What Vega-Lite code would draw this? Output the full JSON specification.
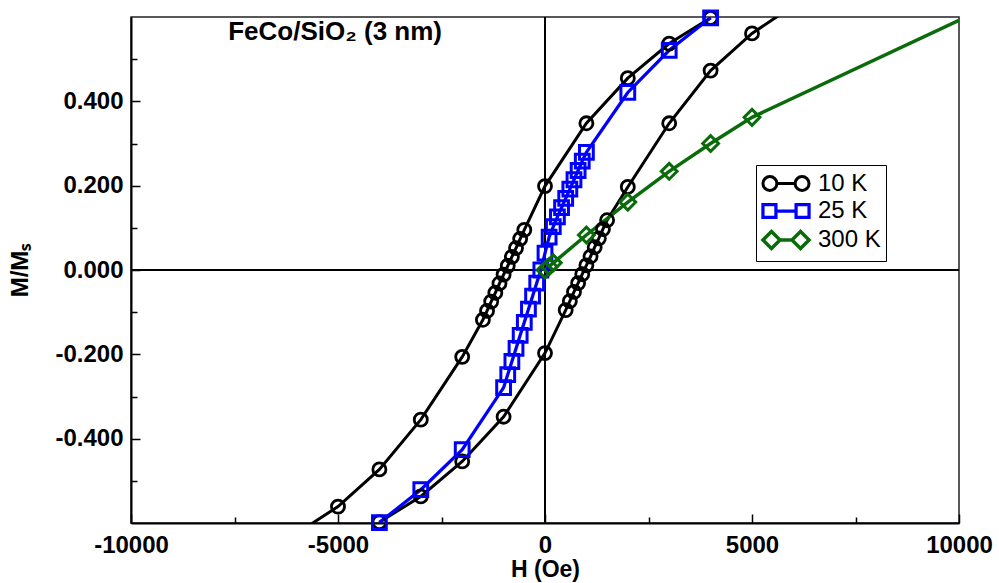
{
  "$schema": "https://vega.github.io/schema/vega-lite/v6.json",
  "width": 828,
  "height": 506,
  "autosize": {"type": "none"},
  "padding": {"left": 131, "top": 17, "right": 40, "bottom": 60},
  "background": "white",
  "config": {
    "view": {"stroke": "#222222", "strokeWidth": 1.5},
    "axis": {
      "labelFont": "Liberation Sans",
      "labelFontWeight": "bold",
      "labelFontSize": 24,
      "labelColor": "black",
      "titleFont": "Liberation Sans",
      "titleFontWeight": "bold",
      "titleFontSize": 24,
      "titleColor": "black",
      "domainColor": "black",
      "domainWidth": 2,
      "tickColor": "black",
      "tickWidth": 1.5,
      "grid": false
    }
  },
  "data": {
    "values": [
      {"series": "10 K", "branch": "a", "idx": 1, "H": 4000, "M": 0.598},
      {"series": "10 K", "branch": "a", "idx": 2, "H": 3000, "M": 0.537},
      {"series": "10 K", "branch": "a", "idx": 3, "H": 2000, "M": 0.455},
      {"series": "10 K", "branch": "a", "idx": 4, "H": 1000, "M": 0.348},
      {"series": "10 K", "branch": "a", "idx": 5, "H": 0, "M": 0.199},
      {"series": "10 K", "branch": "a", "idx": 6, "H": -500, "M": 0.095},
      {"series": "10 K", "branch": "a", "idx": 7, "H": -600, "M": 0.074},
      {"series": "10 K", "branch": "a", "idx": 8, "H": -700, "M": 0.052},
      {"series": "10 K", "branch": "a", "idx": 9, "H": -800, "M": 0.031},
      {"series": "10 K", "branch": "a", "idx": 10, "H": -900, "M": 0.010},
      {"series": "10 K", "branch": "a", "idx": 11, "H": -1000, "M": -0.011},
      {"series": "10 K", "branch": "a", "idx": 12, "H": -1100, "M": -0.032},
      {"series": "10 K", "branch": "a", "idx": 13, "H": -1200, "M": -0.054},
      {"series": "10 K", "branch": "a", "idx": 14, "H": -1300, "M": -0.075},
      {"series": "10 K", "branch": "a", "idx": 15, "H": -1400, "M": -0.097},
      {"series": "10 K", "branch": "a", "idx": 16, "H": -1500, "M": -0.118},
      {"series": "10 K", "branch": "a", "idx": 17, "H": -2000, "M": -0.206},
      {"series": "10 K", "branch": "a", "idx": 18, "H": -3000, "M": -0.355},
      {"series": "10 K", "branch": "a", "idx": 19, "H": -4000, "M": -0.473},
      {"series": "10 K", "branch": "a", "idx": 20, "H": -5000, "M": -0.561},
      {"series": "10 K", "branch": "a", "idx": 21, "H": -6000, "M": -0.625},
      {"series": "10 K", "branch": "b", "idx": 1, "H": -4000, "M": -0.598},
      {"series": "10 K", "branch": "b", "idx": 2, "H": -3000, "M": -0.537},
      {"series": "10 K", "branch": "b", "idx": 3, "H": -2000, "M": -0.454},
      {"series": "10 K", "branch": "b", "idx": 4, "H": -1000, "M": -0.348},
      {"series": "10 K", "branch": "b", "idx": 5, "H": 0, "M": -0.197},
      {"series": "10 K", "branch": "b", "idx": 6, "H": 500, "M": -0.095},
      {"series": "10 K", "branch": "b", "idx": 7, "H": 600, "M": -0.074},
      {"series": "10 K", "branch": "b", "idx": 8, "H": 700, "M": -0.052},
      {"series": "10 K", "branch": "b", "idx": 9, "H": 800, "M": -0.031},
      {"series": "10 K", "branch": "b", "idx": 10, "H": 900, "M": -0.010},
      {"series": "10 K", "branch": "b", "idx": 11, "H": 1000, "M": 0.011},
      {"series": "10 K", "branch": "b", "idx": 12, "H": 1100, "M": 0.032},
      {"series": "10 K", "branch": "b", "idx": 13, "H": 1200, "M": 0.054},
      {"series": "10 K", "branch": "b", "idx": 14, "H": 1300, "M": 0.075},
      {"series": "10 K", "branch": "b", "idx": 15, "H": 1400, "M": 0.097},
      {"series": "10 K", "branch": "b", "idx": 16, "H": 1500, "M": 0.118},
      {"series": "10 K", "branch": "b", "idx": 17, "H": 2000, "M": 0.197},
      {"series": "10 K", "branch": "b", "idx": 18, "H": 3000, "M": 0.348},
      {"series": "10 K", "branch": "b", "idx": 19, "H": 4000, "M": 0.473},
      {"series": "10 K", "branch": "b", "idx": 20, "H": 5000, "M": 0.561},
      {"series": "10 K", "branch": "b", "idx": 21, "H": 6000, "M": 0.627},
      {"series": "25 K", "branch": "a", "idx": 1, "H": -4000, "M": -0.599},
      {"series": "25 K", "branch": "a", "idx": 2, "H": -3000, "M": -0.521},
      {"series": "25 K", "branch": "a", "idx": 3, "H": -2000, "M": -0.426},
      {"series": "25 K", "branch": "a", "idx": 4, "H": -1000, "M": -0.279},
      {"series": "25 K", "branch": "a", "idx": 5, "H": -900, "M": -0.248},
      {"series": "25 K", "branch": "a", "idx": 6, "H": -800, "M": -0.217},
      {"series": "25 K", "branch": "a", "idx": 7, "H": -700, "M": -0.186},
      {"series": "25 K", "branch": "a", "idx": 8, "H": -600, "M": -0.155},
      {"series": "25 K", "branch": "a", "idx": 9, "H": -500, "M": -0.124},
      {"series": "25 K", "branch": "a", "idx": 10, "H": -400, "M": -0.093},
      {"series": "25 K", "branch": "a", "idx": 11, "H": -300, "M": -0.062},
      {"series": "25 K", "branch": "a", "idx": 12, "H": -200, "M": -0.031},
      {"series": "25 K", "branch": "a", "idx": 13, "H": -100, "M": 0.000},
      {"series": "25 K", "branch": "a", "idx": 14, "H": 0, "M": 0.040},
      {"series": "25 K", "branch": "a", "idx": 15, "H": 100, "M": 0.078},
      {"series": "25 K", "branch": "a", "idx": 16, "H": 200, "M": 0.103},
      {"series": "25 K", "branch": "a", "idx": 17, "H": 300, "M": 0.126},
      {"series": "25 K", "branch": "a", "idx": 18, "H": 400, "M": 0.148},
      {"series": "25 K", "branch": "a", "idx": 19, "H": 500, "M": 0.170},
      {"series": "25 K", "branch": "a", "idx": 20, "H": 600, "M": 0.192},
      {"series": "25 K", "branch": "a", "idx": 21, "H": 700, "M": 0.214},
      {"series": "25 K", "branch": "a", "idx": 22, "H": 800, "M": 0.236},
      {"series": "25 K", "branch": "a", "idx": 23, "H": 900, "M": 0.258},
      {"series": "25 K", "branch": "a", "idx": 24, "H": 1000, "M": 0.279},
      {"series": "25 K", "branch": "a", "idx": 25, "H": 2000, "M": 0.421},
      {"series": "25 K", "branch": "a", "idx": 26, "H": 3000, "M": 0.521},
      {"series": "25 K", "branch": "a", "idx": 27, "H": 4000, "M": 0.598},
      {"series": "300 K", "branch": "a", "idx": 1, "H": 0, "M": 0.000},
      {"series": "300 K", "branch": "a", "idx": 2, "H": 100, "M": 0.008},
      {"series": "300 K", "branch": "a", "idx": 3, "H": 200, "M": 0.017},
      {"series": "300 K", "branch": "a", "idx": 4, "H": 1000, "M": 0.083},
      {"series": "300 K", "branch": "a", "idx": 5, "H": 2000, "M": 0.161},
      {"series": "300 K", "branch": "a", "idx": 6, "H": 3000, "M": 0.234},
      {"series": "300 K", "branch": "a", "idx": 7, "H": 4000, "M": 0.300},
      {"series": "300 K", "branch": "a", "idx": 8, "H": 5000, "M": 0.362},
      {"series": "300 K", "branch": "a", "idx": 9, "H": 10000, "M": 0.592}
    ]
  },
  "layer": [
    {
      "data": {"values": [{}]},
      "mark": {"type": "rule", "color": "black", "strokeWidth": 2},
      "encoding": {"x": {"datum": 0, "type": "quantitative"}}
    },
    {
      "data": {"values": [{}]},
      "mark": {"type": "rule", "color": "black", "strokeWidth": 2.2},
      "encoding": {"y": {"datum": 0, "type": "quantitative"}}
    },
    {
      "mark": {"type": "line", "clip": true},
      "encoding": {
        "x": {
          "field": "H", "type": "quantitative",
          "scale": {"domain": [-10000, 10000], "nice": false, "zero": false},
          "axis": {
            "title": "H (Oe)",
            "titleFontSize": 23,
            "values": [-10000, -7500, -5000, -2500, 0, 2500, 5000, 7500, 10000],
            "labelExpr": "datum.value % 5000 == 0 ? replace(format(datum.value, 'd'), '\u2212', '-') : ''",
            "tickSize": {"condition": {"test": "datum.value % 5000 == 0", "value": -9}, "value": -6},
            "labelPadding": 19,
            "titlePadding": -2,
            "labelFlush": false,
            "labelOverlap": false
          }
        },
        "y": {
          "field": "M", "type": "quantitative",
          "scale": {"domain": [-0.6, 0.6], "nice": false, "zero": false},
          "axis": {
            "title": "M/M\u209B",
            "values": [-0.5, -0.4, -0.3, -0.2, -0.1, 0, 0.1, 0.2, 0.3, 0.4, 0.5],
            "labelExpr": "abs(round(datum.value * 10)) % 2 == 0 ? replace(format(datum.value, '.3f'), '\u2212', '-') : ''",
            "tickSize": {"condition": {"test": "abs(round(datum.value * 10)) % 2 == 0", "value": -9}, "value": -6},
            "labelPadding": 17,
            "titlePadding": 22,
            "labelFlush": false,
            "labelOverlap": false
          }
        },
        "color": {
          "field": "series", "type": "nominal",
          "scale": {"domain": ["10 K", "25 K", "300 K"], "range": ["#000000", "#0000ff", "#0a6b0a"]},
          "legend": {
            "title": null,
            "orient": "none",
            "legendX": 625,
            "legendY": 148,
            "fillColor": "white",
            "strokeColor": "black",
            "padding": 5,
            "labelFont": "Liberation Sans",
            "labelFontSize": 24,
            "labelColor": "black",
            "labelOffset": 18,
            "symbolOffset": 11,
            "rowPadding": 0,
            "symbolSize": 576,
            "symbolStrokeWidth": 2.8,
            "symbolFillColor": "transparent",
            "symbolOpacity": 1
          }
        },
        "strokeWidth": {
          "field": "series", "type": "nominal",
          "scale": {"domain": ["10 K", "25 K", "300 K"], "range": [3, 3.5, 3.5]},
          "legend": null
        },
        "detail": {"field": "branch"},
        "order": {"field": "idx", "type": "quantitative"}
      }
    },
    {
      "transform": [{"filter": "datum.series == '10 K' && datum.H >= -5500 && datum.H <= 5500"}],
      "mark": {"type": "point", "shape": "circle", "filled": false, "strokeWidth": 2.8, "size": 170, "opacity": 1},
      "encoding": {
        "x": {"field": "H", "type": "quantitative"},
        "y": {"field": "M", "type": "quantitative"},
        "color": {"field": "series", "type": "nominal"}
      }
    },
    {
      "transform": [{"filter": "datum.series == '25 K' && datum.H >= -5500 && datum.H <= 5500"}],
      "mark": {"type": "point", "shape": "square", "filled": false, "strokeWidth": 3, "size": 190, "opacity": 1},
      "encoding": {
        "x": {"field": "H", "type": "quantitative"},
        "y": {"field": "M", "type": "quantitative"},
        "color": {"field": "series", "type": "nominal"}
      }
    },
    {
      "transform": [{"filter": "datum.series == '300 K' && datum.H >= -5500 && datum.H <= 5500"}],
      "mark": {"type": "point", "shape": "diamond", "filled": false, "strokeWidth": 3, "size": 250, "opacity": 1},
      "encoding": {
        "x": {"field": "H", "type": "quantitative"},
        "y": {"field": "M", "type": "quantitative"},
        "color": {"field": "series", "type": "nominal"}
      }
    },
    {
      "transform": [{"filter": "datum.H > 1000000"}],
      "mark": {"type": "point", "filled": false, "opacity": 1},
      "encoding": {
        "x": {"field": "H", "type": "quantitative"},
        "y": {"field": "M", "type": "quantitative"},
        "color": {"field": "series", "type": "nominal"},
        "shape": {
          "field": "series", "type": "nominal",
          "scale": {
            "domain": ["10 K", "25 K", "300 K"],
            "range": [
              "M-1.92,0A0.58,0.58,0,1,0,-0.76,0A0.58,0.58,0,1,0,-1.92,0M-0.76,0L0.76,0M0.76,0A0.58,0.58,0,1,0,1.92,0A0.58,0.58,0,1,0,0.76,0",
              "M-1.92,-0.54H-0.84V0.54H-1.92ZM-0.84,0H0.84M0.84,-0.54H1.92V0.54H0.84Z",
              "M-1.92,0L-1.21,-0.71L-0.5,0L-1.21,0.71ZM-0.5,0H0.5M0.5,0L1.21,-0.71L1.92,0L1.21,0.71Z"
            ]
          },
          "legend": null
        }
      }
    },
    {
      "data": {"values": [{}]},
      "mark": {"type": "text", "font": "Liberation Sans", "fontWeight": "bold", "fontSize": 26, "color": "black", "align": "center", "baseline": "middle"},
      "encoding": {
        "x": {"datum": -5070, "type": "quantitative"},
        "y": {"datum": 0.565, "type": "quantitative"},
        "text": {"value": "FeCo/SiO\u2082 (3 nm)"}
      }
    }
  ]
}
